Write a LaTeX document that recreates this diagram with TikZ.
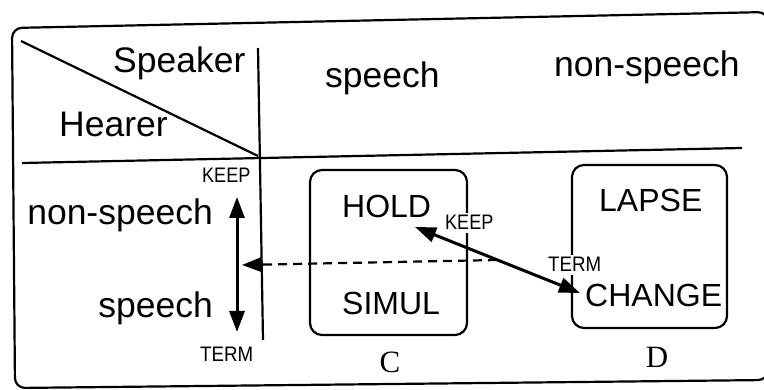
\documentclass[tikz,border=0pt]{standalone}
\usepackage{fontspec}
\setmainfont{Liberation Sans}
\newfontfamily\serifletter{Liberation Serif}
\usetikzlibrary{arrows.meta}
\begin{document}
\begin{tikzpicture}[x=1pt,y=-1pt,
  rule/.style={line width=2.2pt},
  bigtxt/.style={font=\fontsize{35.5}{40}\selectfont, inner sep=0pt, anchor=base west},
  boxtxt/.style={font=\fontsize{32}{36}\selectfont, inner sep=0pt, anchor=base west},
  tinylbl/.style={font=\fontsize{21}{24}\selectfont, inner sep=0pt, anchor=base west},
  masklbl/.style={font=\fontsize{21}{24}\selectfont, inner sep=3pt, fill=white, anchor=base west},
  lettertxt/.style={font=\serifletter\fontsize{31}{36}\selectfont, inner sep=0pt, anchor=base},
  stbox/.style={draw, line width=2.2pt, rounded corners=12pt, inner sep=0pt, outer sep=0pt},
  dblarrow/.style={line width=3pt, {Triangle[length=21pt,width=15pt]}-{Triangle[length=21pt,width=15pt]}},
  dasharrow/.style={line width=2.2pt, dash pattern=on 9pt off 6pt, -{Triangle[length=19pt,width=14pt]}}
]
\useasboundingbox (0,0) rectangle (764,390);
% frame
\draw[rule, rounded corners=10pt] (12,28) -- (768,12) -- (768,380) -- (15,388) -- cycle;
% table rules
\coordinate (dgA) at (21,41);
\coordinate (dgB) at (258,156);
\coordinate (hzA) at (22,163);
\coordinate (hzB) at (742,148);
\coordinate (vtA) at (258,48);
\coordinate (vtB) at (263,340);
\draw[rule] (dgA) -- (dgB);
\draw[rule] (hzA) -- (hzB);
\draw[rule] (vtA) -- (vtB);
% headers
\node[bigtxt] (spk) at (113,73) {Speaker};
\node[bigtxt] (hea) at (59,137) {Hearer};
\node[bigtxt] (hsp) at (325,88) {speech};
\node[bigtxt] (hns) at (554,77) {non-speech};
\node[bigtxt, anchor=base east] (rns) at (213,225) {non-speech};
\node[bigtxt, anchor=base east] (rsp) at (213,318) {speech};
% boxes
\node[stbox, minimum width=157pt, minimum height=165pt] (boxC) at (388.5,252.5) {};
\node[stbox, minimum width=155pt, minimum height=163pt] (boxD) at (649.5,246.5) {};
\node[boxtxt] (hold) at (342,218) {HOLD};
\node[boxtxt] (simul) at (342,315) {SIMUL};
\node[boxtxt] (lapse) at (599,212) {LAPSE};
\node[boxtxt] (change) at (585,307) {CHANGE};
\node[lettertxt] (lc) at (390,373) {C};
\node[lettertxt] (ld) at (657,368) {D};
% small labels
\node[tinylbl] (keepL) at (202,183) {\scalebox{0.86}[1]{KEEP}};
\node[tinylbl] (termL) at (200,362) {\scalebox{0.89}[1]{TERM}};
\node[masklbl] (keepM) at (442,230) {\scalebox{0.86}[1]{KEEP}};
\node[masklbl] (termM) at (545,272) {\scalebox{0.89}[1]{TERM}};
% arrows
\coordinate (vt) at (237,197);
\coordinate (vb) at (237,332);
\draw[dblarrow] (vt) -- (vb);
\coordinate (dsA) at (497,260);
\coordinate (dsB) at (242,265);
\draw[dasharrow] (dsA) -- (dsB);
\coordinate (dgH) at (415,227);
\coordinate (dgC) at (580,293);
\draw[dblarrow] (dgH) -- (dgC);
\end{tikzpicture}
\end{document}
